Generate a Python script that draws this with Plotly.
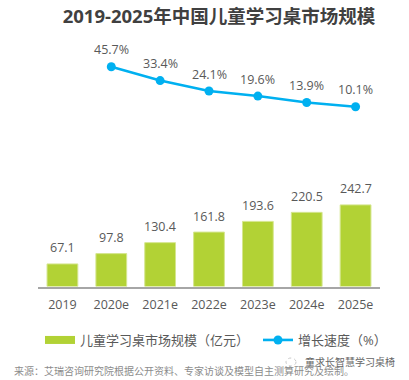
import plotly.graph_objects as go

categories = ["2019", "2020e", "2021e", "2022e", "2023e", "2024e", "2025e"]
market_size = [67.1, 97.8, 130.4, 161.8, 193.6, 220.5, 242.7]
growth_categories = categories[1:]
growth_rate = [45.7, 33.4, 24.1, 19.6, 13.9, 10.1]
growth_labels = ["45.7%", "33.4%", "24.1%", "19.6%", "13.9%", "10.1%"]
bar_labels = ["67.1", "97.8", "130.4", "161.8", "193.6", "220.5", "242.7"]

W, H = 409, 380
FONT = "'Open Sans', 'Noto Sans CJK SC', sans-serif"
TXT = "#595959"
GREEN = "#B2D235"
BLUE = "#00B0F0"

fig = go.Figure()
fig.add_trace(go.Bar(
    x=categories, y=market_size, showlegend=False,
    marker=dict(color=GREEN, line=dict(color="#D5E68F", width=1)),
    yaxis="y",
))
# legend-only key giving the wide flat swatch of the reference
fig.add_trace(go.Scatter(
    x=categories, y=[None] * len(categories), mode="lines", name="儿童学习桌市场规模（亿元）",
    line=dict(color=GREEN, width=8), yaxis="y", legend="legend",
))
fig.add_trace(go.Scatter(
    x=growth_categories, y=growth_rate, name="增长速度（%）",
    mode="lines+markers",
    line=dict(color=BLUE, width=2.6),
    marker=dict(color=BLUE, size=9),
    cliponaxis=False,
    yaxis="y2", legend="legend2",
))

annotations = []
# category-axis annotations are placed by category index ("2019" would be read as a number)
for i, (v, t) in enumerate(zip(market_size, bar_labels)):
    annotations.append(dict(text=t, x=i, y=v, xref="x", yref="y", yshift=16,
                            showarrow=False, xanchor="center", yanchor="middle",
                            font=dict(size=12.5, color=TXT, family=FONT)))
for i, (v, t) in enumerate(zip(growth_rate, growth_labels), start=1):
    annotations.append(dict(text=t, x=i, y=v, xref="x", yref="y2", yshift=17,
                            showarrow=False, xanchor="center", yanchor="middle",
                            font=dict(size=12.5, color=TXT, family=FONT)))
annotations += [
    dict(text="来源：艾瑞咨询研究院根据公开资料、专家访谈及模型自主测算研究及绘制。",
         x=12/W, y=1-370.5/H, xref="paper", yref="paper", xanchor="left", yanchor="middle",
         showarrow=False, font=dict(size=10, color="#8C8C8C", family=FONT)),
    dict(text="童求长智慧学习桌椅",
         x=397/W, y=1-362/H, xref="paper", yref="paper", xanchor="right", yanchor="middle",
         showarrow=False, font=dict(size=10, color="#666666", family=FONT)),
]

legend_common = dict(
    orientation="h", y=1-340/H, xanchor="left", yanchor="middle",
    font=dict(size=13, color=TXT, family=FONT),
    itemwidth=30, bgcolor="rgba(0,0,0,0)",
)

fig.update_layout(
    width=W, height=H,
    margin=dict(l=0, r=0, t=0, b=0),
    paper_bgcolor="white", plot_bgcolor="white",
    font=dict(family=FONT, color=TXT, size=12.5),
    bargap=0.37,
    showlegend=True,
    legend=dict(x=40/W, **legend_common),
    legend2=dict(x=258/W, **legend_common),
    xaxis=dict(
        domain=[38/W, 380/W], type="category", anchor="y",
        range=[-0.5, 6.5],
        showgrid=False, showline=True, linecolor="#A6A6A6", linewidth=2,
        ticks="", ticklabelstandoff=5,
        tickfont=dict(size=12.5, color=TXT, family=FONT),
    ),
    yaxis=dict(
        domain=[1-286.5/H, 1-40/H], range=[0, 733], visible=False, showgrid=False,
    ),
    yaxis2=dict(
        domain=[1-286.5/H, 1-40/H], range=[-149.9, 69.5], visible=False, showgrid=False,
        overlaying="y",
    ),
    title=dict(
        text="<b>2019-2025年中国儿童学习桌市场规模</b>",
        x=219/W, y=1-17/H, xanchor="center", yanchor="middle",
        font=dict(size=18.5, color="#404040", family=FONT),
    ),
    annotations=annotations,
    shapes=[dict(type="circle", xref="paper", yref="paper",
                 x0=286/W, x1=296/W, y0=1-366/H, y1=1-358/H,
                 line=dict(color="#C8C8C8", width=1, dash="dot"))],
)
fig.write_html("out.html", config={"displayModeBar": False},
               post_script="document.body.style.margin='0';document.body.style.overflow='hidden';")
